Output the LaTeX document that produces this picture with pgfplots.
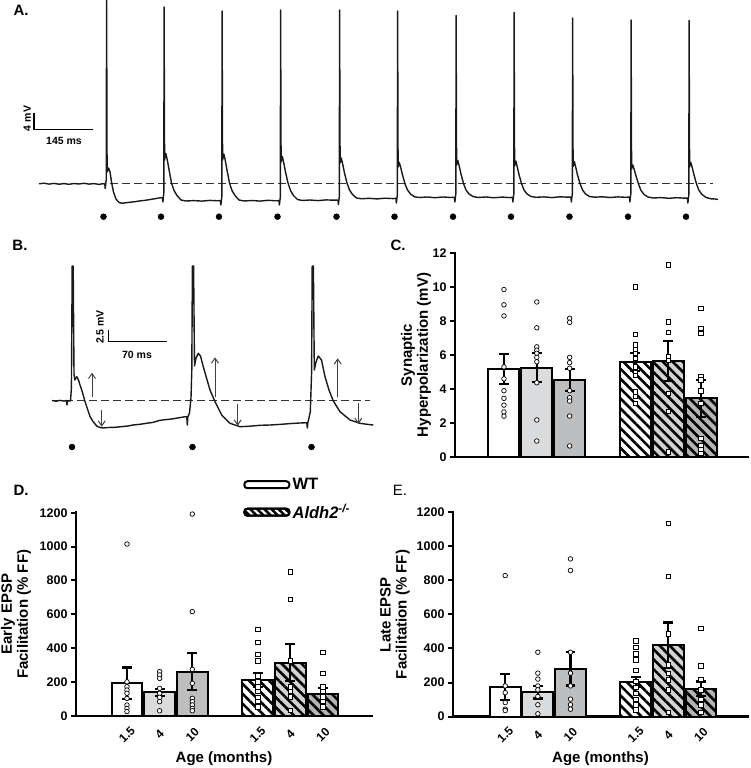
\documentclass[border=0pt]{standalone}
\usepackage{pgfplots}
\pgfplotsset{compat=1.18}
\usepackage{fontspec}
\setmainfont{Liberation Sans}
\usetikzlibrary{patterns.meta,arrows.meta}
\definecolor{lg}{RGB}{218,219,220}
\definecolor{mg}{RGB}{189,190,192}
\definecolor{hlg}{RGB}{210,210,210}
\definecolor{hmg}{RGB}{180,180,180}
\definecolor{tr}{RGB}{25,25,25}

\pgfplotsset{
  barpanel/.style={
    scale only axis, anchor=south west, clip=false,
    axis x line=bottom, axis y line=left,
    axis line style={line width=2.4pt, -, line cap=rect},
    every outer x axis line/.append style={-},
    every outer y axis line/.append style={-},
    xtick={1,2,3,5,6,7},
    xtick style={draw=none},
    ytick style={line width=2pt, black},
    tick align=outside, major tick length=5pt,
    ytick pos=left,
    yticklabel style={font=\fontsize{12.5}{14}\selectfont\bfseries},
    xticklabel style={font=\fontsize{12}{14}\selectfont\bfseries, rotate=45, anchor=center, xshift=-9.5pt, yshift=-9.5pt},
    /pgf/number format/assume math mode=true,
    /pgf/number format/1000 sep={},
    ymin=0,
    unbounded coords=jump,
    ylabel style={font=\fontsize{15}{16}\selectfont\bfseries, align=center, anchor=center},
    xlabel style={font=\fontsize{15}{16}\selectfont\bfseries, anchor=center},
  },
  bar/.style={ybar, bar width=0.945, bar shift=0pt, draw=black, line width=2pt, forget plot},
  hatch/.style={postaction={pattern={Lines[angle=-45,distance=7pt,line width=2.6pt]}, pattern color=black}},
  eb/.style={line width=2.2pt, black, forget plot},
  wtpts/.style={only marks, mark=*, mark size=2.3pt, mark options={fill=white, draw=black, line width=0.7pt}, forget plot},
  kopts/.style={only marks, mark=square*, mark size=2.2pt, mark options={fill=white, draw=black, line width=0.7pt}, forget plot},
}

\begin{document}
\begin{tikzpicture}
\useasboundingbox (0pt,0pt) rectangle (750pt,768pt);

% ---------------- traces (A and B) ----------------
\begin{axis}[at={(0pt,0pt)}, anchor=south west, scale only axis, width=750pt, height=768pt,
  xmin=0, xmax=750, ymin=0, ymax=768, y dir=reverse, hide axis, clip=false]
% dashed baselines
\addplot[line width=1.1pt, color=black!80, dash pattern=on 8pt off 4pt] coordinates {(110,183.3)(713,183.3)};
\addplot[line width=1.1pt, color=black!80, dash pattern=on 8pt off 4pt] coordinates {(53,400.7)(370,400.7)};
% trace A
\addplot[line width=1.4pt, color=tr, line join=round] coordinates {
(39,183.8)(44,183.2)(49,184.1)(54,183.4)(59,184.2)(64,183.6)(69,184.3)(74,183.5)(79,184)(84,183.3)(89,184.1)(94,183.6)(99,184.4)(103,183.7)(104.8,184)(105.2,188.5)(105.7,184.2)(106.2,180)(106.6,0.5)(107.1,172)(108.6,168)(110,172)(111.7,183)(113.5,192)(116,199)(119,202.5)(122,203.2)(128,202.5)(134,201.8)(140,200.9)(146,200.2)(152,199.2)(158,198.2)(162.4,197.5)
(162.9,202)(163.4,197.5)(163.8,193)(164.1,7)(164.6,160)(165.8,153.5)(167.2,159.5)(169,169.5)(171.5,183)(174,190.5)(177,195.5)(181,200)(186,201)(194,200.6)(202,201.1)(210,200.4)(218,200.8)(220.4,200.5)
(220.9,205)(221.4,200.5)(221.8,197)(222.1,11)(222.6,160)(223.8,154)(225.2,160)(227,170)(229.5,183)(232,190.5)(235,195.5)(239,200)(244,201)(252,200.5)(260,201.1)(268,200.3)(276,200.8)(278.9,200.5)
(279.4,205)(279.9,200.5)(280.3,197)(280.6,10)(281.1,162)(282.3,156.5)(283.7,162.5)(285.5,172)(288,183)(290.5,190.5)(293.5,195.5)(297.5,199.5)(302.5,200.5)(310,200)(318,200.6)(326,199.9)(334,200.2)(337.9,200)
(338.4,204.5)(338.9,200)(339.3,196.5)(339.6,10)(340.1,163)(341.3,158)(342.7,164)(344.5,173)(347,183)(349.5,190)(352.5,194.5)(356.5,198)(361.5,198.8)(369,198.3)(377,198.9)(385,198.2)(393,198.6)(395.9,198.3)
(396.4,203)(396.9,198.3)(397.3,195)(397.6,11)(398.1,167)(399.3,162.5)(400.7,167.5)(402.5,175)(405,184)(407.5,190)(410.5,194)(414.5,196.8)(419.5,197.5)(427,197)(435,197.7)(443,197)(451,197.5)(454.4,197.2)
(454.9,202)(455.4,197.2)(455.8,194)(456.1,15.5)(456.6,165)(457.8,160.5)(459.2,166)(461,174)(463.5,183.5)(466,190)(469,194)(473,196.5)(478,197.5)(486,197)(494,197.8)(502,197.1)(510,197.6)(512.4,197.3)
(512.9,202)(513.4,197.3)(513.8,194)(514.1,12.5)(514.6,166)(515.8,161)(517.2,166.5)(519,174.5)(521.5,183.5)(524,190)(527,194)(531,196.5)(536,197.3)(544,196.9)(552,197.6)(560,196.8)(568,197.2)(570.9,197)
(571.4,202)(571.9,197)(572.3,194)(572.6,18)(573.1,166.5)(574.3,161.5)(575.7,167)(577.5,175)(580,183.5)(582.5,190)(585.5,194)(589.5,196.5)(594.5,197.2)(602,196.8)(610,197.5)(618,196.9)(626,197.3)(629.4,197)
(629.9,202)(630.4,197)(630.8,194)(631.1,20)(631.6,169)(632.8,165)(634.2,169.5)(636,176)(638.5,184)(641,190.5)(644,194.5)(648,197)(653,198)(661,197.6)(669,198.3)(677,197.7)(685,198.2)(687.4,198)
(687.9,203)(688.4,198)(688.8,195)(689.1,20.5)(689.6,167)(690.8,162.5)(692.2,167.5)(694,175)(696.5,184)(699,190.5)(702,194.5)(706,197.5)(711,198.8)(715,199)(718,199.5)
};
% stimulus dots A
\addplot[only marks, mark=*, mark size=3pt, black] coordinates {(103.5,216.7)(161,216.7)(219,216.7)(277.5,216.7)(336.5,216.7)(394.5,216.7)(453,216.7)(511,216.7)(569.5,216.7)(628,216.7)(686,216.7)};
% scale bar A
\addplot[line width=1.3pt, black] coordinates {(34,113.3)(34,129.3)(93.3,129.3)};
% trace B
\addplot[line width=1.4pt, color=tr, line join=round] coordinates {
(52,400.5)(56,401.2)(60,400.4)(64,401)(66.5,400.6)(67,405)(67.5,401)(70.5,400.8)(71.4,388)(72.2,266)(73.2,266)(74,374)(74.8,380)(76.7,376.7)(78.5,380)(80,385)(81.7,390)(83.5,396)(85,401.5)(87.5,409)(90,416.5)(93,421.5)(96.7,426)(100,427.5)(103,428)(108,427.5)(115,427.3)(122,426.6)(128,426)(133,425)(140,424.3)(147,423.2)(153,422.4)(160,420.3)(167,419.5)(173,418.8)(180,417.6)(185,416.7)(186.8,416.7)(187.3,425)(187.8,417)(189.5,413)(191,398)(191.8,370)(192.4,266)(193.6,266)(194.5,366)(196,358)(198.3,353.3)(200.5,356)(203.3,366.7)(206.5,378)(210,390)(215,401.7)(221.7,415)(230,423.3)(240,426.7)(250,426.2)(260,425.3)(270,425)(280,424.4)(290,423.6)(300,423)(306.8,422.7)(307.3,428)(307.8,423)(310.3,412)(311.6,372)(312.2,266)(313.4,266)(314.3,370)(316,362)(318.3,356)(321.5,360)(325,376.7)(329,390)(333.3,401)(340,411.7)(350,420)(360,423.3)(367,424.3)(373.3,425)
};
\addplot[only marks, mark=*, mark size=3pt, black] coordinates {(72,447)(192.5,447)(311.5,447)};
\addplot[line width=1.3pt, black] coordinates {(108.3,330)(108.3,341.7)(166.7,341.7)};
% arrows B
\addplot[line width=1pt, color=black!75, -{Straight Barb[length=5pt,width=7pt]}] coordinates {(92,396.7)(92,372.7)};
\addplot[line width=1pt, color=black!75, -{Straight Barb[length=5pt,width=7pt]}] coordinates {(101.7,410)(101.7,426.7)};
\addplot[line width=1pt, color=black!75, -{Straight Barb[length=5pt,width=7pt]}] coordinates {(215,396.7)(215,357.3)};
\addplot[line width=1pt, color=black!75, -{Straight Barb[length=5pt,width=7pt]}] coordinates {(237.7,404)(237.7,425.7)};
\addplot[line width=1pt, color=black!75, -{Straight Barb[length=5pt,width=7pt]}] coordinates {(337.7,396.7)(337.7,358.3)};
\addplot[line width=1pt, color=black!75, -{Straight Barb[length=5pt,width=7pt]}] coordinates {(358.3,403.3)(358.3,424)};
% texts
\node[font=\fontsize{15}{16}\selectfont\bfseries] at (axis cs:21,10) {A.};
\node[font=\fontsize{15}{16}\selectfont\bfseries] at (axis cs:20,245) {B.};
\node[font=\fontsize{15}{16}\selectfont\bfseries] at (axis cs:398,245) {C.};
\node[font=\fontsize{15}{16}\selectfont\bfseries] at (axis cs:21,490) {D.};
\node[font=\fontsize{15}{16}\selectfont] at (axis cs:400,490) {E.};
\node[font=\fontsize{10.5}{12}\selectfont\bfseries, rotate=90] at (axis cs:27.3,118.5) {4 mV};
\node[font=\fontsize{10.5}{12}\selectfont\bfseries] at (axis cs:64,141) {145 ms};
\node[font=\fontsize{10.5}{12}\selectfont\bfseries, rotate=90] at (axis cs:100,327) {2.5 mV};
\node[font=\fontsize{10.5}{12}\selectfont\bfseries] at (axis cs:137,355) {70 ms};
\end{axis}

% ---------------- C ----------------
\begin{axis}[barpanel, at={(455pt,311pt)}, width=293pt, height=204pt,
  xmin=-0.49, xmax=8.43, ymax=12, ytick={0,2,4,6,8,10,12}, xtick=\empty,
  ylabel={Synaptic\\Hyperpolarization (mV)},
  ylabel style={at={(axis description cs:-0.133,0.5)}}]
\addplot[bar, fill=white] coordinates {(1,5.18)};
\addplot[bar, fill=lg] coordinates {(2,5.25)};
\addplot[bar, fill=mg] coordinates {(3,4.53)};
\addplot[bar, fill=white, hatch] coordinates {(5,5.6)};
\addplot[bar, fill=hlg, hatch] coordinates {(6,5.65)};
\addplot[bar, fill=hmg, hatch] coordinates {(7,3.45)};
% error bars (mean -/+ SEM)
\addplot[eb] coordinates {
(0.85,6.05)(1.15,6.05)(nan,nan)(1,6.05)(1,4.31)(nan,nan)(0.85,4.31)(1.15,4.31)(nan,nan)
(1.85,6.11)(2.15,6.11)(nan,nan)(2,6.11)(2,4.39)(nan,nan)(1.85,4.39)(2.15,4.39)(nan,nan)
(2.85,5.17)(3.15,5.17)(nan,nan)(3,5.17)(3,3.89)(nan,nan)(2.85,3.89)(3.15,3.89)(nan,nan)
(4.85,6.13)(5.15,6.13)(nan,nan)(5,6.13)(5,5.07)(nan,nan)(4.85,5.07)(5.15,5.07)(nan,nan)
(5.85,6.82)(6.15,6.82)(nan,nan)(6,6.82)(6,4.48)(nan,nan)(5.85,4.48)(6.15,4.48)(nan,nan)
(6.85,4.53)(7.15,4.53)(nan,nan)(7,4.53)(7,2.37)(nan,nan)(6.85,2.37)(7.15,2.37)
};
\addplot[wtpts] coordinates {(1,9.85)(1,8.95)(1,8.3)(1,5.3)(1,4.6)(1,3.9)(1,3.45)(1,3.05)(1,2.65)(1,2.4)};
\addplot[wtpts] coordinates {(2,9.12)(2,7.6)(2,6.48)(2,6.28)(2,6.1)(2,5.86)(2,5.6)(2,4.37)(2,2.18)(2,0.94)};
\addplot[wtpts] coordinates {(3,8.16)(3,7.92)(3,5.86)(3,5.55)(3,5.22)(3,3.9)(3,3.49)(3,3.29)(3,2.41)(3,0.65)};
\addplot[kopts] coordinates {(5,10.0)(5,7.22)(5,6.59)(5,6.33)(5,6.1)(5,5.8)(5,5.31)(5,4.96)(5,4.82)(5,3.84)(5,3.55)(5,3.16)};
\addplot[kopts] coordinates {(6,11.3)(6,7.96)(6,7.33)(6,5.9)(6,5.7)(6,3.75)(6,2.7)(6,0.3)};
\addplot[kopts] coordinates {(7,8.75)(7,7.57)(7,7.27)(7,4.73)(7,4.53)(7,3.88)(7,3.16)(7,1.1)(7,0.7)(7,0.45)(7,0.2)};
\end{axis}

% ---------------- D ----------------
\begin{axis}[barpanel, at={(76pt,52pt)}, width=296pt, height=203.3pt,
  xmin=-0.56, xmax=8.5, ymax=1200, ytick={0,200,400,600,800,1000,1200},
  xticklabels={1.5,4,10,1.5,4,10},
  ylabel={Early EPSP\\Facilitation (\% FF)},
  ylabel style={at={(axis description cs:-0.203,0.5)}},
  xlabel={Age (months)},
  xlabel style={at={(axis description cs:0.5,-0.208)}},
  legend style={at={(axis description cs:0.564,1.18)}, anchor=north west, draw=none, fill=none,
    inner sep=0pt, row sep=9pt, font=\fontsize{16.5}{18}\selectfont\bfseries, cells={anchor=west}}]
\addlegendimage{/pgfplots/legend image code/.code={\draw[line width=2pt, rounded corners=3pt, fill=white] (0pt,-3.5pt) rectangle (45pt,3.5pt);}}
\addlegendentry{WT}
\addlegendimage{/pgfplots/legend image code/.code={\draw[line width=2pt, rounded corners=3pt, fill=white, postaction={pattern={Lines[angle=-45,distance=5pt,line width=2.5pt]}, pattern color=black}] (0pt,-3.5pt) rectangle (45pt,3.5pt);}}
\addlegendentry{\textit{Aldh2\textsuperscript{-/-}}}
\addplot[bar, fill=white] coordinates {(1,193)};
\addplot[bar, fill=lg] coordinates {(2,140)};
\addplot[bar, fill=mg] coordinates {(3,262)};
\addplot[bar, fill=white, hatch] coordinates {(5,212)};
\addplot[bar, fill=hlg, hatch] coordinates {(6,315)};
\addplot[bar, fill=hmg, hatch] coordinates {(7,128)};
\addplot[eb] coordinates {
(0.85,286)(1.15,286)(nan,nan)(1,286)(1,100)(nan,nan)(0.85,100)(1.15,100)(nan,nan)
(1.85,160)(2.15,160)(nan,nan)(2,160)(2,120)(nan,nan)(1.85,120)(2.15,120)(nan,nan)
(2.85,370)(3.15,370)(nan,nan)(3,370)(3,154)(nan,nan)(2.85,154)(3.15,154)(nan,nan)
(4.85,252)(5.15,252)(nan,nan)(5,252)(5,172)(nan,nan)(4.85,172)(5.15,172)(nan,nan)
(5.85,423)(6.15,423)(nan,nan)(6,423)(6,207)(nan,nan)(5.85,207)(6.15,207)(nan,nan)
(6.85,163)(7.15,163)(nan,nan)(7,163)(7,93)(nan,nan)(6.85,93)(7.15,93)
};
\addplot[wtpts] coordinates {(1,1015)(1,202)(1,173)(1,153)(1,134)(1,104)(1,65)(1,45)(1,26)};
\addplot[wtpts] coordinates {(2,262)(2,242)(2,222)(2,163)(2,134)(2,110)(2,85)(2,31)};
\addplot[wtpts] coordinates {(3,1192)(3,616)(3,275)(3,193)(3,104)(3,85)(3,65)(3,45)(3,31)};
\addplot[kopts] coordinates {(5,512)(5,433)(5,364)(5,325)(5,236)(5,202)(5,173)(5,144)(5,110)(5,85)(5,55)};
\addplot[kopts] coordinates {(6,852)(6,689)(6,325)(6,173)(6,144)(6,114)(6,35)};
\addplot[kopts] coordinates {(7,374)(7,252)(7,173)(7,144)(7,114)(7,85)(7,55)};
\end{axis}

% ---------------- E ----------------
\begin{axis}[barpanel, at={(453pt,51.5pt)}, width=295pt, height=204pt,
  xmin=-0.6, xmax=8.44, ymax=1200, ytick={0,200,400,600,800,1000,1200},
  xticklabels={1.5,4,10,1.5,4,10},
  ylabel={Late EPSP\\Facilitation (\% FF)},
  ylabel style={at={(axis description cs:-0.197,0.5)}},
  xlabel={Age (months)},
  xlabel style={at={(axis description cs:0.5,-0.205)}}]
\addplot[bar, fill=white] coordinates {(1,172)};
\addplot[bar, fill=lg] coordinates {(2,143)};
\addplot[bar, fill=mg] coordinates {(3,280)};
\addplot[bar, fill=white, hatch] coordinates {(5,202)};
\addplot[bar, fill=hlg, hatch] coordinates {(6,418)};
\addplot[bar, fill=hmg, hatch] coordinates {(7,163)};
\addplot[eb] coordinates {
(0.85,248)(1.15,248)(nan,nan)(1,248)(1,96)(nan,nan)(0.85,96)(1.15,96)(nan,nan)
(1.85,180)(2.15,180)(nan,nan)(2,180)(2,106)(nan,nan)(1.85,106)(2.15,106)(nan,nan)
(2.85,378)(3.15,378)(nan,nan)(3,378)(3,182)(nan,nan)(2.85,182)(3.15,182)(nan,nan)
(4.85,231)(5.15,231)(nan,nan)(5,231)(5,173)(nan,nan)(4.85,173)(5.15,173)(nan,nan)
(5.85,553)(6.15,553)(nan,nan)(6,553)(6,283)(nan,nan)(5.85,283)(6.15,283)(nan,nan)
(6.85,206)(7.15,206)(nan,nan)(7,206)(7,120)(nan,nan)(6.85,120)(7.15,120)
};
\addplot[wtpts] coordinates {(1,829)(1,180)(1,140)(1,82)(1,43)(1,35)};
\addplot[wtpts] coordinates {(2,378)(2,255)(2,220)(2,180)(2,157)(2,118)(2,69)(2,16)};
\addplot[wtpts] coordinates {(3,927)(3,859)(3,378)(3,255)(3,180)(3,102)(3,69)(3,43)};
\addplot[kopts] coordinates {(5,445)(5,406)(5,369)(5,333)(5,271)(5,206)(5,171)(5,137)(5,102)(5,69)(5,39)};
\addplot[kopts] coordinates {(6,1137)(6,824)(6,486)(6,304)(6,255)(6,216)(6,157)(6,25)};
\addplot[kopts] coordinates {(7,520)(7,298)(7,220)(7,157)(7,102)(7,69)(7,24)};
\end{axis}
\end{tikzpicture}
\end{document}
